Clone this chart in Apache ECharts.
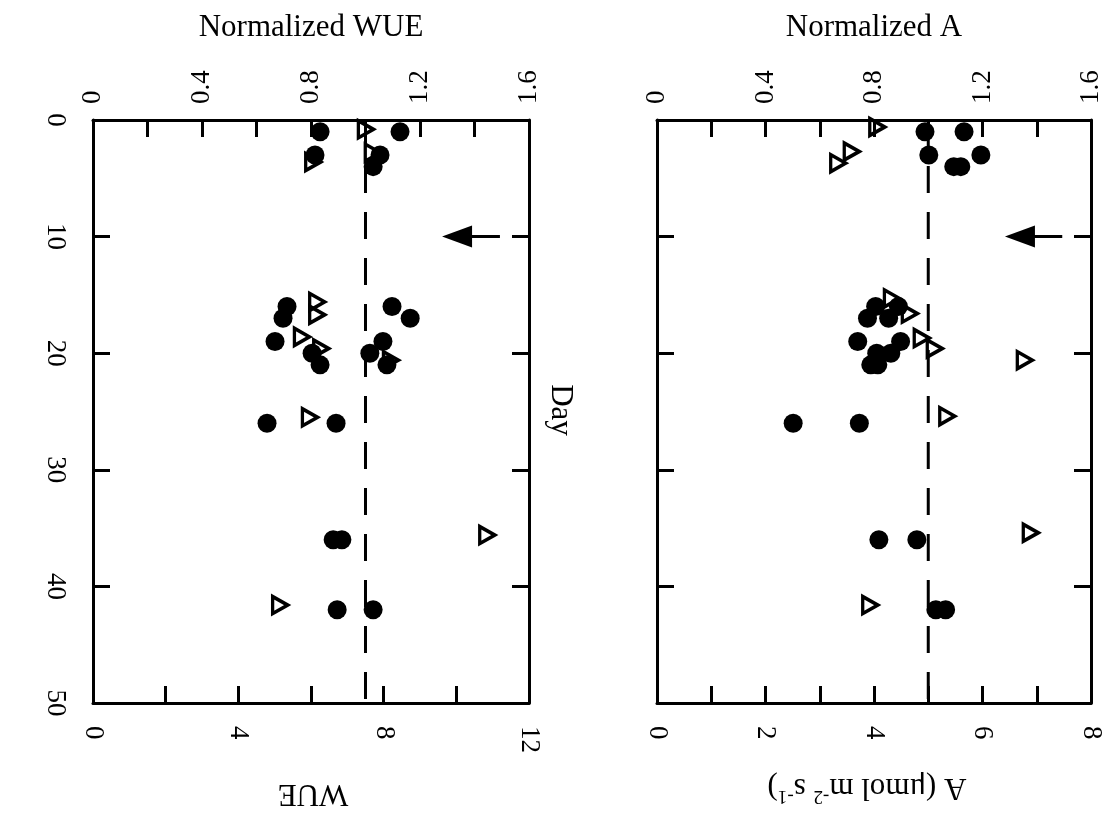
<!DOCTYPE html>
<html>
<head>
<meta charset="utf-8">
<script src="https://cdn.jsdelivr.net/npm/echarts@6/dist/echarts.min.js"></script>
<style>
  html, body { margin: 0; padding: 0; background: #fff; }
  #chart { width: 1120px; height: 819px; }
</style>
</head>
<body>
<div id="chart"></div>
<script>
// ---- tick labels ----
const dayTickLabels  = ['0', '10', '20', '30', '40', '50'];
const normTickLabels = ['0', '0.4', '0.8', '1.2', '1.6'];
const wueTickLabels  = ['0', '4', '8', '12'];
const aTickLabels    = ['0', '2', '4', '6', '8'];

// ---- WUE panel: filled circles ----
const wueDotDays   = [1, 1, 3, 3, 4, 16, 16, 17, 17, 19, 19, 20, 20, 21, 21, 26, 26, 36, 36, 42, 42];
const wueDotValues = [6.25, 8.45, 6.11, 7.9, 7.71, 5.34, 8.23, 5.23, 8.73, 5.01, 7.98, 6.03, 7.62, 6.25, 8.09, 4.79, 6.69, 6.61, 6.85, 6.72, 7.71];
// ---- WUE panel: open triangles ----
const wueTriDays   = [0.8, 2.8, 3.6, 15.6, 16.7, 18.6, 19.6, 20.6, 25.5, 35.6, 41.6];
const wueTriValues = [7.51, 7.7, 6.06, 6.17, 6.17, 5.75, 6.28, 8.2, 5.97, 10.85, 5.15];

// ---- A panel: filled circles ----
const aDotDays   = [1, 1, 3, 3, 4, 4, 16, 16, 17, 17, 19, 19, 20, 20, 21, 21, 26, 26, 36, 36, 42, 42];
const aDotValues = [4.94, 5.66, 5.01, 5.97, 5.47, 5.6, 4.03, 4.45, 3.88, 4.27, 3.7, 4.49, 4.05, 4.31, 3.94, 4.07, 2.51, 3.73, 4.09, 4.79, 5.14, 5.32];
// ---- A panel: open triangles ----
const aTriDays   = [0.6, 2.7, 3.7, 15.3, 16.6, 18.7, 19.6, 20.6, 25.4, 35.4, 41.6];
const aTriValues = [4.06, 3.59, 3.34, 4.33, 4.66, 4.88, 5.12, 6.78, 5.35, 6.89, 3.93];

// reference level on the normalized scale and the treatment day
const normReference = 1;
const treatmentDay = 10;

const ink = '#000';
const serif = '"Liberation Serif", "Times New Roman", serif';

function labelFrom(list, step) {
  return function (v) {
    const k = Math.round(v / step);
    return Math.abs(v - k * step) < 1e-6 && list[k] !== undefined ? list[k] : '';
  };
}

function pairs(days, values) {
  return values.map((v, i) => [v, days[i]]);
}

const panels = [
  { grid: { left: 93, top: 120, width: 436, height: 583 },
    max: 12, tick: 2, labelStep: 4, labels: wueTickLabels,
    dots: pairs(wueDotDays, wueDotValues), tris: pairs(wueTriDays, wueTriValues),
    arrow: [11.2, 10.02], dayLabels: true },
  { grid: { left: 657, top: 120, width: 434, height: 583 },
    max: 8, tick: 1, labelStep: 2, labels: aTickLabels,
    dots: pairs(aDotDays, aDotValues), tris: pairs(aTriDays, aTriValues),
    arrow: [7.47, 6.69], dayLabels: false }
];

const lineW = 3;
const tickStyle = { show: true, inside: true, length: 17, lineStyle: { color: ink, width: lineW } };
const axisLineStyle = { show: true, onZero: false, lineStyle: { color: ink, width: lineW } };
const labelFont = { color: ink, fontFamily: serif, fontSize: 27 };

const grids = [], xAxes = [], yAxes = [], series = [];

panels.forEach((p, g) => {
  grids.push(Object.assign({ containLabel: false }, p.grid));

  // bottom: measured quantity
  xAxes.push({
    type: 'value', gridIndex: g, position: 'bottom', min: 0, max: p.max, interval: p.tick,
    axisLine: axisLineStyle, axisTick: tickStyle, splitLine: { show: false },
    axisLabel: Object.assign({ show: true, rotate: -90, align: 'left', verticalAlign: 'middle',
      margin: 23, showMinLabel: true, showMaxLabel: true,
      formatter: labelFrom(p.labels, p.labelStep) }, labelFont)
  });
  // top: normalized quantity (labels end just above the frame)
  xAxes.push({
    type: 'value', gridIndex: g, position: 'top', min: 0, max: 1.6, interval: 0.2,
    axisLine: axisLineStyle, axisTick: tickStyle, splitLine: { show: false },
    axisLabel: Object.assign({ show: true, rotate: -90, align: 'left', verticalAlign: 'middle',
      margin: 16, showMinLabel: true, showMaxLabel: true,
      formatter: labelFrom(normTickLabels, 0.4) }, labelFont)
  });
  // left / right: day
  yAxes.push({
    type: 'value', gridIndex: g, position: 'left', inverse: true, min: 0, max: 50, interval: 10,
    axisLine: axisLineStyle, axisTick: tickStyle, splitLine: { show: false },
    axisLabel: Object.assign({ show: p.dayLabels, rotate: -90, align: 'center', verticalAlign: 'top',
      margin: 24, showMinLabel: true, showMaxLabel: true,
      formatter: labelFrom(dayTickLabels, 10) }, labelFont)
  });
  yAxes.push({
    type: 'value', gridIndex: g, position: 'right', inverse: true, min: 0, max: 50, interval: 10,
    axisLine: axisLineStyle, axisTick: tickStyle, splitLine: { show: false },
    axisLabel: { show: false }
  });

  const xb = 2 * g, xt = 2 * g + 1, yl = 2 * g;

  // dashed reference at normalized = 1
  series.push({
    type: 'line', xAxisIndex: xt, yAxisIndex: yl, z: 1,
    data: [[normReference, 0], [normReference, 50]],
    symbol: 'none', silent: true,
    lineStyle: { color: ink, width: lineW, type: [27, 19] }
  });

  // open triangles
  series.push({
    type: 'scatter', xAxisIndex: xb, yAxisIndex: yl, z: 2,
    data: p.tris, symbol: 'triangle', symbolSize: [17, 15], symbolRotate: -90,
    itemStyle: { color: 'rgba(0,0,0,0)', borderColor: ink, borderWidth: 3.5, opacity: 1 }
  });

  // filled circles
  series.push({
    type: 'scatter', xAxisIndex: xb, yAxisIndex: yl, z: 3,
    data: p.dots, symbol: 'circle', symbolSize: 19,
    itemStyle: { color: ink, opacity: 1 }
  });

  // treatment arrow
  series.push({
    type: 'line', xAxisIndex: xb, yAxisIndex: yl, data: [], z: 4,
    markLine: {
      silent: true, animation: false,
      symbol: ['none', 'triangle'], symbolSize: [22, 30],
      label: { show: false },
      lineStyle: { color: ink, width: lineW, type: 'solid' },
      emphasis: { disabled: true },
      data: [[{ coord: [p.arrow[0], treatmentDay] }, { coord: [p.arrow[1], treatmentDay] }]]
    }
  });
});

const titleFont = `31px ${serif}`;

const option = {
  animation: false,
  backgroundColor: '#fff',
  grid: grids,
  xAxis: xAxes,
  yAxis: yAxes,
  series: series,
  graphic: [
    { type: 'text', x: 311, y: 28, style: { text: 'Normalized WUE', font: titleFont, fill: ink, align: 'center', verticalAlign: 'middle' } },
    { type: 'text', x: 874, y: 28, style: { text: 'Normalized A', font: titleFont, fill: ink, align: 'center', verticalAlign: 'middle' } },
    { type: 'text', x: 313, y: 793, rotation: Math.PI, style: { text: 'WUE', font: titleFont, fill: ink, align: 'center', verticalAlign: 'middle' } },
    { type: 'text', x: 867, y: 787, rotation: Math.PI, style: {
        text: 'A (μmol m{sup|-2} s{sup|-1})', font: titleFont, fill: ink, align: 'center', verticalAlign: 'middle',
        lineHeight: 36,
        rich: { sup: { fontFamily: serif, fontSize: 19, fill: ink, verticalAlign: 'top', lineHeight: 20 } }
      } },
    { type: 'text', x: 560, y: 410, rotation: -Math.PI / 2, style: { text: 'Day', font: titleFont, fill: ink, align: 'center', verticalAlign: 'middle' } }
  ]
};

const chart = echarts.init(document.getElementById('chart'), null, { renderer: 'canvas' });
chart.setOption(option);
</script>
</body>
</html>
